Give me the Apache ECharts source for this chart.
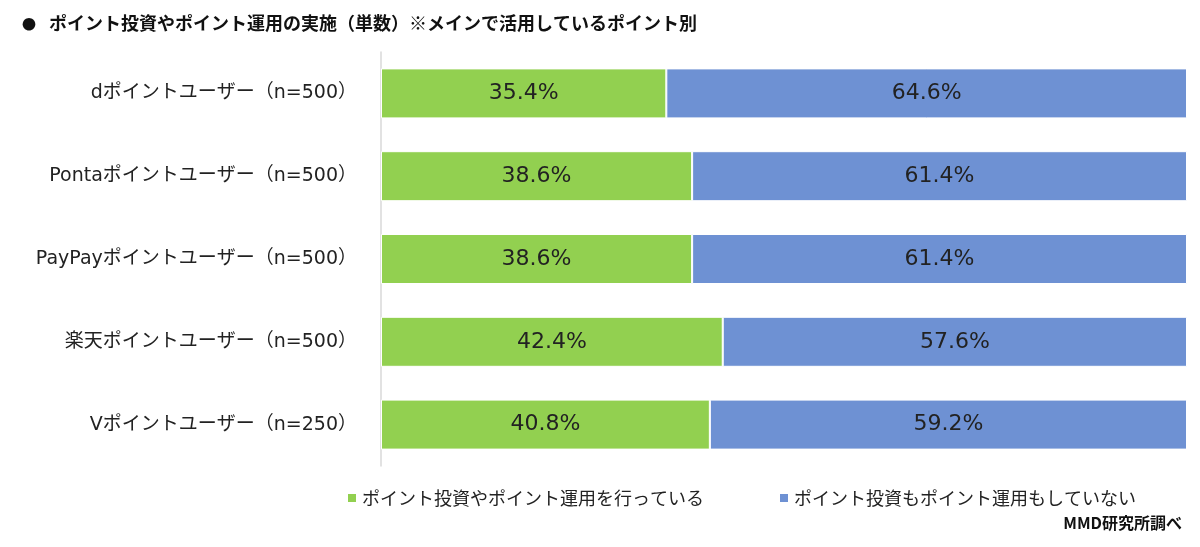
<!DOCTYPE html>
<html>
<head>
<meta charset="utf-8">
<script src="https://cdn.jsdelivr.net/npm/echarts@6/dist/echarts.min.js"></script>
<style>html,body{margin:0;padding:0;background:#fff;}#c{width:1200px;height:547px;}</style>
</head>
<body>
<div id="c"></div>
<script>
const categories = ['dポイントユーザー（n=500）','Pontaポイントユーザー（n=500）','PayPayポイントユーザー（n=500）','楽天ポイントユーザー（n=500）','Vポイントユーザー（n=250）'];
const seriesNames = ['ポイント投資やポイント運用を行っている','ポイント投資もポイント運用もしていない'];
const doing = [35.4, 38.6, 38.6, 42.4, 40.8];
const notDoing = [64.6, 61.4, 61.4, 57.6, 59.2];
const titleText = 'ポイント投資やポイント運用の実施（単数）※メインで活用しているポイント別';
const sourceText = 'MMD研究所調べ';

const font = '"Noto Sans CJK JP", "Noto Sans", sans-serif';
const latinFont = '"DejaVu Sans", "Noto Sans CJK JP", sans-serif';
const chart = echarts.init(document.getElementById('c'));
chart.setOption({
  backgroundColor: '#fff',
  animation: false,
  textStyle: { fontFamily: font },
  title: [
    { text: '●', left: 17, top: 12, textStyle: { fontSize: 14, fontWeight: 'bold', color: '#111', fontFamily: font } },
    { text: titleText, left: 44, top: 9, textStyle: { fontSize: 18, fontWeight: 'bold', color: '#111', fontFamily: font } },
    { text: sourceText, right: 13, top: 510, textStyle: { fontSize: 16, fontWeight: 'bold', color: '#111', fontFamily: font } }
  ],
  legend: {
    data: seriesNames,
    left: 341, top: 484,
    itemWidth: 10, itemHeight: 10, itemGap: 74,
    icon: 'rect',
    textStyle: { fontSize: 18, color: '#222', fontFamily: font }
  },
  grid: { left: 381, right: 13, top: 52, height: 414, containLabel: false },
  xAxis: { type: 'value', min: 0, max: 100, show: false },
  yAxis: {
    type: 'category', data: categories, inverse: true,
    axisLine: { show: true, lineStyle: { color: '#d9d9d9', width: 1.5 } },
    axisTick: { show: false },
    axisLabel: { fontSize: 19, color: '#222', margin: 24, fontFamily: latinFont }
  },
  series: [
    { name: seriesNames[0], type: 'bar', stack: 'a', data: doing, barWidth: 50,
      itemStyle: { color: '#92D050', borderColor: '#fff', borderWidth: 1 },
      label: { show: true, position: 'inside', formatter: p => p.value.toFixed(1) + '%', fontSize: 22, color: '#222', fontFamily: latinFont } },
    { name: seriesNames[1], type: 'bar', stack: 'a', data: notDoing, barWidth: 50,
      itemStyle: { color: '#6E91D3', borderColor: '#fff', borderWidth: 1 },
      label: { show: true, position: 'inside', formatter: p => p.value.toFixed(1) + '%', fontSize: 22, color: '#222', fontFamily: latinFont } }
  ]
});
</script>
</body>
</html>
